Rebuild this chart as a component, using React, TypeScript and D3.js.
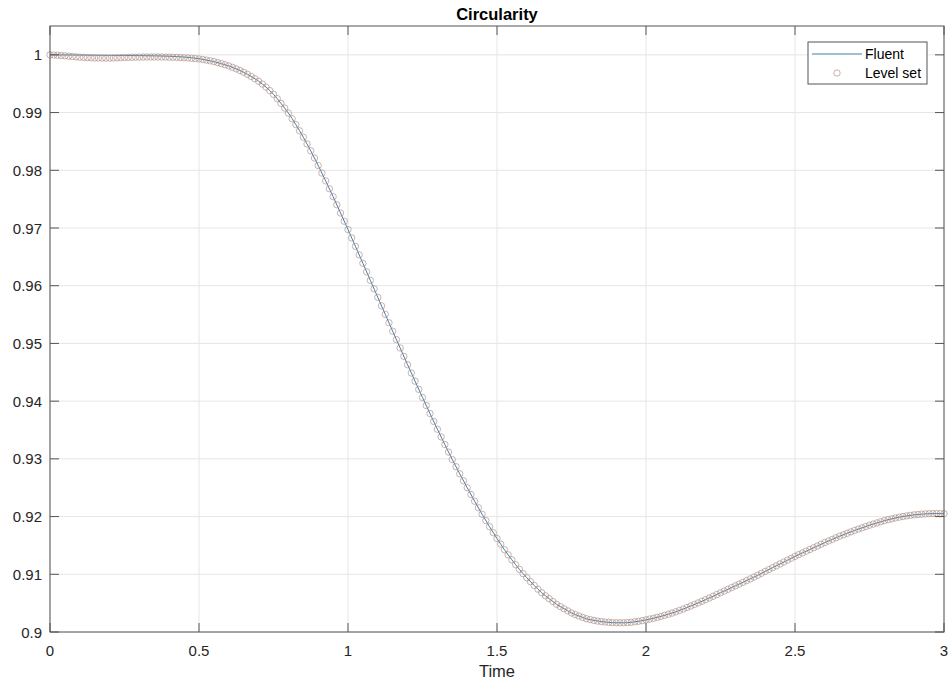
import React from "react";
import * as d3 from "d3";

const W = 948;
const H = 685;

const chartTitle = "Circularity";
const xLabel = "Time";
const seriesNames = ["Fluent", "Level set"];
const xTicks = [0, 0.5, 1, 1.5, 2, 2.5, 3];
const yTicks = [0.9, 0.91, 0.92, 0.93, 0.94, 0.95, 0.96, 0.97, 0.98, 0.99, 1];
const xTickLabels = ["0", "0.5", "1", "1.5", "2", "2.5", "3"];
const yTickLabels = ["0.9", "0.91", "0.92", "0.93", "0.94", "0.95", "0.96", "0.97", "0.98", "0.99", "1"];

// Level set samples, time step 0.0125 from 0 to 3
const levelSetStep = 0.0125;
const levelSetValues = [
  1.00000, 0.99997, 0.99993, 0.99988, 0.99983, 0.99977, 0.99971, 0.99965,
  0.99960, 0.99956, 0.99952, 0.99949, 0.99946, 0.99945, 0.99944, 0.99944,
  0.99944, 0.99946, 0.99948, 0.99951, 0.99954, 0.99956, 0.99958, 0.99960,
  0.99961, 0.99962, 0.99963, 0.99963, 0.99963, 0.99963, 0.99962, 0.99961,
  0.99960, 0.99958, 0.99956, 0.99953, 0.99950, 0.99946, 0.99941, 0.99936,
  0.99930, 0.99920, 0.99909, 0.99897, 0.99883, 0.99866, 0.99848, 0.99829,
  0.99808, 0.99783, 0.99757, 0.99729, 0.99698, 0.99663, 0.99626, 0.99586,
  0.99543, 0.99494, 0.99441, 0.99381, 0.99316, 0.99241, 0.99160, 0.99078,
  0.98991, 0.98893, 0.98791, 0.98684, 0.98573, 0.98456, 0.98337, 0.98212,
  0.98083, 0.97952, 0.97817, 0.97681, 0.97543, 0.97402, 0.97260, 0.97117,
  0.96973, 0.96828, 0.96682, 0.96535, 0.96388, 0.96241, 0.96093, 0.95946,
  0.95798, 0.95651, 0.95504, 0.95358, 0.95211, 0.95066, 0.94921, 0.94776,
  0.94631, 0.94488, 0.94346, 0.94204, 0.94063, 0.93924, 0.93786, 0.93649,
  0.93513, 0.93380, 0.93248, 0.93117, 0.92988, 0.92864, 0.92741, 0.92620,
  0.92500, 0.92382, 0.92266, 0.92152, 0.92040, 0.91931, 0.91824, 0.91721,
  0.91620, 0.91522, 0.91427, 0.91337, 0.91250, 0.91166, 0.91086, 0.91011,
  0.90940, 0.90872, 0.90806, 0.90742, 0.90680, 0.90628, 0.90578, 0.90528,
  0.90480, 0.90441, 0.90403, 0.90366, 0.90330, 0.90303, 0.90277, 0.90253,
  0.90230, 0.90215, 0.90201, 0.90189, 0.90180, 0.90173, 0.90167, 0.90163,
  0.90160, 0.90159, 0.90160, 0.90163, 0.90168, 0.90177, 0.90186, 0.90197,
  0.90210, 0.90224, 0.90238, 0.90254, 0.90270, 0.90289, 0.90308, 0.90328,
  0.90350, 0.90374, 0.90398, 0.90424, 0.90450, 0.90477, 0.90504, 0.90532,
  0.90560, 0.90589, 0.90619, 0.90649, 0.90680, 0.90710, 0.90740, 0.90770,
  0.90800, 0.90830, 0.90860, 0.90890, 0.90920, 0.90952, 0.90984, 0.91017,
  0.91050, 0.91082, 0.91115, 0.91147, 0.91180, 0.91212, 0.91245, 0.91277,
  0.91310, 0.91340, 0.91370, 0.91400, 0.91430, 0.91460, 0.91490, 0.91520,
  0.91550, 0.91578, 0.91605, 0.91633, 0.91660, 0.91685, 0.91710, 0.91735,
  0.91760, 0.91783, 0.91805, 0.91828, 0.91850, 0.91870, 0.91890, 0.91910,
  0.91930, 0.91946, 0.91961, 0.91976, 0.91990, 0.92001, 0.92012, 0.92021,
  0.92030, 0.92036, 0.92042, 0.92046, 0.92050, 0.92051, 0.92052, 0.92051,
  0.92050,
];

// Fluent samples, time step 0.025 from 0 to 3
const fluentStep = 0.025;
const fluentValues = [
  1.00000, 0.99999, 0.99998, 0.99997, 0.99996, 0.99995, 0.99994, 0.99993,
  0.99992, 0.99991, 0.99990, 0.99988, 0.99987, 0.99985, 0.99983, 0.99980,
  0.99976, 0.99970, 0.99962, 0.99950, 0.99933, 0.99909, 0.99883, 0.99848,
  0.99808, 0.99757, 0.99698, 0.99626, 0.99543, 0.99441, 0.99316, 0.99160,
  0.98991, 0.98791, 0.98573, 0.98337, 0.98083, 0.97817, 0.97543, 0.97260,
  0.96973, 0.96682, 0.96388, 0.96093, 0.95798, 0.95504, 0.95211, 0.94921,
  0.94631, 0.94346, 0.94063, 0.93786, 0.93513, 0.93248, 0.92988, 0.92741,
  0.92500, 0.92266, 0.92040, 0.91824, 0.91620, 0.91427, 0.91250, 0.91086,
  0.90940, 0.90806, 0.90680, 0.90578, 0.90480, 0.90403, 0.90330, 0.90277,
  0.90230, 0.90201, 0.90180, 0.90167, 0.90160, 0.90160, 0.90168, 0.90186,
  0.90210, 0.90238, 0.90270, 0.90308, 0.90350, 0.90398, 0.90450, 0.90504,
  0.90560, 0.90619, 0.90680, 0.90740, 0.90800, 0.90860, 0.90920, 0.90984,
  0.91050, 0.91115, 0.91180, 0.91245, 0.91310, 0.91370, 0.91430, 0.91490,
  0.91550, 0.91605, 0.91660, 0.91710, 0.91760, 0.91805, 0.91850, 0.91890,
  0.91930, 0.91961, 0.91990, 0.92012, 0.92030, 0.92042, 0.92050, 0.92052,
  0.92050,
];

const X0 = 50, X1 = 944, Y0 = 632, Y1 = 26;
const FONT = "'Liberation Sans', Arial, Helvetica, sans-serif";
const AXIS = "#555555";
const GRID = "#e6e6e6";
const BLUE = "#3f7fae";
const MARK = "#b08f84";

export default function App() {
  const x = d3.scaleLinear().domain([0, 3]).range([X0, X1]);
  const y = d3.scaleLinear().domain([0.9, 1.005]).range([Y0, Y1]);

  const fluent = fluentValues.map((v, i) => [i * fluentStep, v] as [number, number]);
  const level = levelSetValues.map((v, i) => [i * levelSetStep, v] as [number, number]);

  const line = d3
    .line<[number, number]>()
    .x((d) => x(d[0]))
    .y((d) => y(d[1]))
    .curve(d3.curveMonotoneX);

  const tickLen = 9;

  return (
    <svg
      width={W}
      height={H}
      style={{ position: "absolute", left: 0, top: 0, display: "block", background: "#fff" }}
      fontFamily={FONT}
    >
      <rect x={0} y={0} width={W} height={H} fill="#fff" />
      {xTicks.map((t, i) => (
        <line key={"gx" + i} x1={x(t)} x2={x(t)} y1={Y1} y2={Y0} stroke={GRID} strokeWidth={1} />
      ))}
      {yTicks.map((t, i) => (
        <line key={"gy" + i} x1={X0} x2={X1} y1={y(t)} y2={y(t)} stroke={GRID} strokeWidth={1} />
      ))}
      <path d={line(fluent) || ""} fill="none" stroke={BLUE} strokeWidth={1} />
      {level.map((d, i) => (
        <circle
          key={"m" + i}
          cx={x(d[0])}
          cy={y(d[1])}
          r={3.2}
          fill="none"
          stroke={MARK}
          strokeOpacity={0.85}
          strokeWidth={0.8}
        />
      ))}
      <rect x={X0} y={Y1} width={X1 - X0} height={Y0 - Y1} fill="none" stroke={AXIS} strokeWidth={1} />
      {xTicks.map((t, i) => (
        <g key={"tx" + i}>
          <line x1={x(t)} x2={x(t)} y1={Y0} y2={Y0 - tickLen} stroke={AXIS} />
          <line x1={x(t)} x2={x(t)} y1={Y1} y2={Y1 + tickLen} stroke={AXIS} />
          <text x={x(t)} y={656} textAnchor="middle" fontSize={15} fill="#262626">
            {xTickLabels[i]}
          </text>
        </g>
      ))}
      {yTicks.map((t, i) => (
        <g key={"ty" + i}>
          <line x1={X0} x2={X0 + tickLen} y1={y(t)} y2={y(t)} stroke={AXIS} />
          <line x1={X1} x2={X1 - tickLen} y1={y(t)} y2={y(t)} stroke={AXIS} />
          <text x={42} y={y(t) + 5.5} textAnchor="end" fontSize={15} fill="#262626">
            {yTickLabels[i]}
          </text>
        </g>
      ))}
      <text x={(X0 + X1) / 2} y={20} textAnchor="middle" fontSize={16.5} fontWeight="bold" fill="#000">
        {chartTitle}
      </text>
      <text x={(X0 + X1) / 2} y={677} textAnchor="middle" fontSize={16.5} fill="#262626">
        {xLabel}
      </text>
      <rect x={808} y={42} width={119} height={42} fill="#fff" stroke={AXIS} strokeWidth={1} />
      <line x1={812} x2={862} y1={54} y2={54} stroke={BLUE} strokeWidth={1} />
      <circle cx={837} cy={73} r={3.2} fill="none" stroke={MARK} strokeOpacity={0.85} strokeWidth={0.8} />
      <text x={865} y={59} fontSize={14} fill="#000">{seriesNames[0]}</text>
      <text x={865} y={78} fontSize={14} fill="#000">{seriesNames[1]}</text>
    </svg>
  );
}
